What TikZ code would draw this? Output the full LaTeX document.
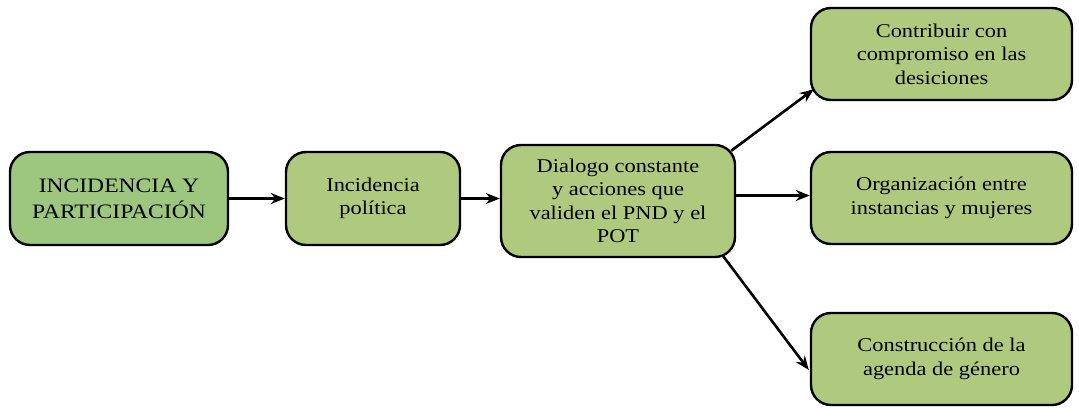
\documentclass[tikz,border=0pt]{standalone}
\usepackage{fontspec}
\setmainfont[FakeStretch=1.15]{Liberation Serif}
\usetikzlibrary{arrows.meta,calc}
\definecolor{gA}{HTML}{9DC67F}
\definecolor{gB}{HTML}{AFCA7E}
\begin{document}
\begin{tikzpicture}[x=1pt,y=-1pt,
  box/.style={draw=black,line width=2.4pt,rounded corners=20pt,fill=gB,align=center,
    font=\fontsize{19.5}{23.5}\selectfont,inner sep=0pt},
  conn/.style={line width=2.6pt,-{Stealth[length=14pt,width=11pt]}}]
\useasboundingbox (0,0) rectangle (1079,408);
\node[box,fill=gA,minimum width=218pt,minimum height=93pt,font=\fontsize{20.5}{26}\selectfont] (b1) at (119,198.5) {INCIDENCIA Y\\PARTICIPACIÓN};
\node[box,minimum width=174pt,minimum height=93pt] (b2) at (373,198.5) {Incidencia\\política};
\node[box,minimum width=234pt,minimum height=112pt] (b3) at (618,201) {Dialogo constante\\y acciones que\\validen el PND y el\\POT};
\node[box,minimum width=261pt,minimum height=92pt] (b4) at (941.5,54) {Contribuir con\\compromiso en las\\desiciones};
\node[box,minimum width=261pt,minimum height=92pt] (b5) at (941.5,198) {Organización entre\\instancias y mujeres};
\node[box,minimum width=261pt,minimum height=92pt] (b6) at (941.5,359) {Construcción de la\\agenda de género};
\draw[conn] (b1.east) -- (b2.west |- b1.east);
\draw[conn] (b2.east) -- (b3.west |- b2.east);
\coordinate (e5) at ($(b5.west)+(0,-2.5)$);
\draw[conn] (b3.east |- e5) -- (e5);
\coordinate (s4) at ($(b3.north east)+(-5,7)$);
\coordinate (e4) at ($(b4.south west)+(4,-12)$);
\draw[conn] (s4) -- (e4);
\coordinate (s6) at ($(b3.south east)+(-13,-2)$);
\coordinate (e6) at ($(b6.west)+(-1,11)$);
\draw[conn] (s6) -- (e6);
\end{tikzpicture}
\end{document}
